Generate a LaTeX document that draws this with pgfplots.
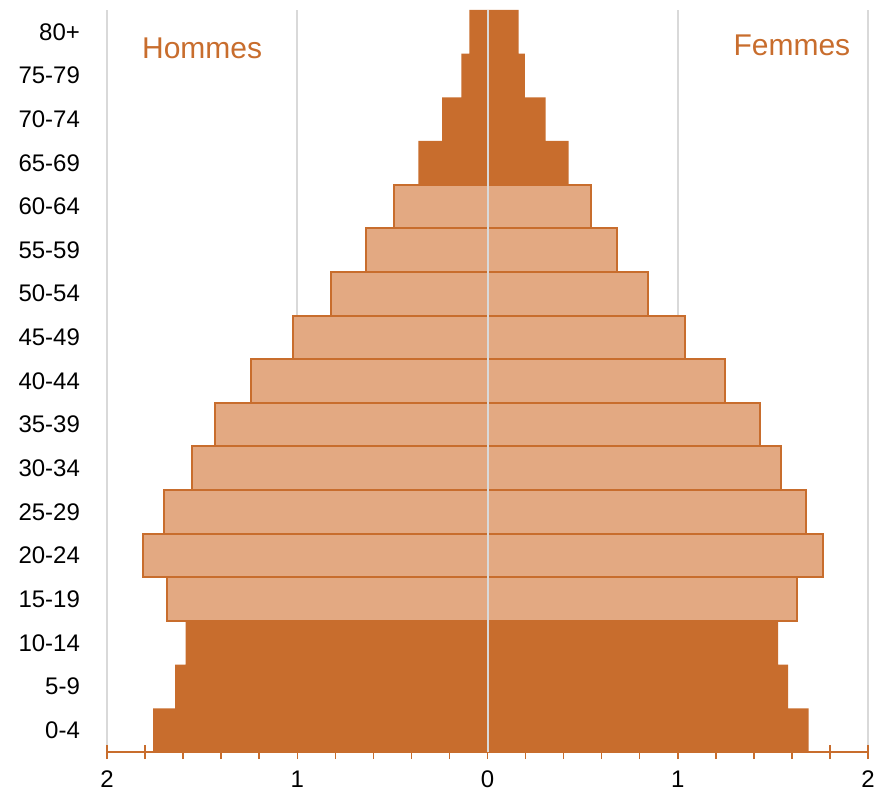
\documentclass[border=0pt]{standalone}
\usepackage{fontspec}
\setmainfont{Liberation Sans}
\usepackage{pgfplots}
\pgfplotsset{compat=1.18}
\definecolor{dark}{HTML}{C86D2D}
\definecolor{light}{HTML}{E3A982}
\definecolor{gridgrey}{HTML}{D9D9D9}

\begin{document}
\begin{tikzpicture}
\begin{axis}[
  set layers,
  scale only axis,
  width=380.5pt, height=371pt,
  xmin=-2, xmax=2, ymin=-0.5, ymax=16.5,
  xbar, bar shift=0pt, bar width=1,
  axis x line=bottom, axis y line=left,
  y axis line style={draw=none},
  x axis line style={dark, line width=0.75pt, -},
  xtick={-2,-1,0,1,2}, xticklabels={2,1,0,1,2},
  minor x tick num=4,
  tick align=center,
  major tick length=7pt, minor tick length=7pt,
  xtick style={dark, line width=0.75pt},
  ytick={0,...,16},
  yticklabels={0-4,5-9,10-14,15-19,20-24,25-29,30-34,35-39,40-44,45-49,50-54,55-59,60-64,65-69,70-74,75-79,80+},
  ytick style={draw=none},
  xmajorgrids, grid style={gridgrey, line width=1pt},
  tick label style={font=\fontsize{12}{14}\selectfont, text=black},
  yticklabel style={xshift=-6.5pt},
  xticklabel shift=2.5pt,
]
% hommes
\addplot[fill=dark, draw=none] coordinates {
  (-1.757,0) (-1.642,1) (-1.587,2)
  (-0.363,13) (-0.238,14) (-0.137,15) (-0.095,16)};
\addplot[fill=light, draw=dark, line width=1pt] coordinates {
  (-1.686,3) (-1.811,4) (-1.703,5) (-1.555,6) (-1.433,7) (-1.245,8)
  (-1.023,9) (-0.820,10) (-0.640,11) (-0.492,12)};
% femmes
\addplot[fill=dark, draw=none] coordinates {
  (1.688,0) (1.580,1) (1.528,2)
  (0.427,13) (0.305,14) (0.197,15) (0.163,16)};
\addplot[fill=light, draw=dark, line width=1pt] coordinates {
  (1.625,3) (1.764,4) (1.676,5) (1.545,6) (1.431,7) (1.249,8)
  (1.037,9) (0.844,10) (0.681,11) (0.543,12)};

\draw[gridgrey, line width=1pt] (axis cs:0,-0.5) -- (axis cs:0,16.5);
\node[anchor=base, text=dark, font=\fontsize{15}{18}\selectfont] at (axis cs:-1.5,15.38) {Hommes};
\node[anchor=base, text=dark, font=\fontsize{15}{18}\selectfont] at (axis cs:1.6,15.45) {Femmes};
\coordinate (sw) at (rel axis cs:0,0);
\coordinate (ne) at (rel axis cs:1,1);
\end{axis}
\pgfresetboundingbox
\path ([shift={(-53.5pt,-19.5pt)}]sw) rectangle ([shift={(7pt,5pt)}]ne);
\end{tikzpicture}
\end{document}
